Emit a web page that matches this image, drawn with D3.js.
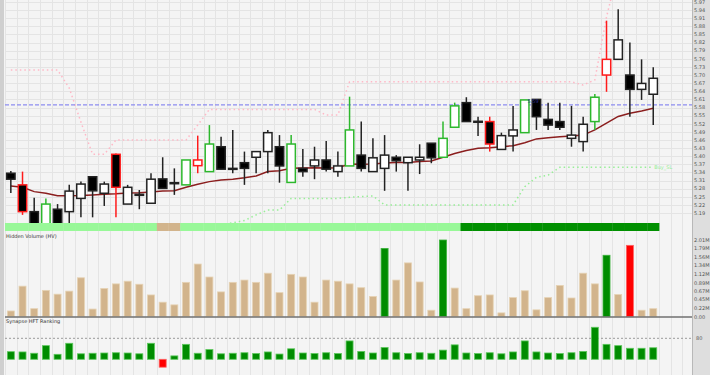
<!DOCTYPE html>
<html>
<head>
<meta charset="utf-8">
<script src="https://cdn.jsdelivr.net/npm/d3@7"></script>
<style>
  body { margin: 0; background: #ffffff; }
  svg { display: block; font-family: "DejaVu Sans", sans-serif; }
</style>
</head>
<body>
<div id="chart"></div>
<script>
// ---- data ----
const opens = [5.337,5.294,5.195,5.150,5.204,5.195,5.244,5.324,5.263,5.407,5.223,5.257,5.226,5.316,5.302,5.294,5.365,5.343,5.435,5.355,
  5.376,5.396,5.417,5.435,5.303,5.355,5.364,5.386,5.343,5.364,5.404,5.343,5.355,5.396,5.376,5.386,5.448,5.396,5.507,5.598,
  5.529,5.528,5.425,5.475,5.487,5.610,5.536,5.528,5.466,5.454,5.528,5.700,5.758,5.700,5.647,5.629]
const highs = [5.345,5.343,5.246,5.244,5.223,5.294,5.306,5.326,5.306,5.410,5.294,5.275,5.337,5.396,5.355,5.386,5.476,5.515,5.472,5.497,
  5.417,5.417,5.497,5.478,5.478,5.427,5.435,5.456,5.417,5.620,5.528,5.466,5.478,5.404,5.396,5.444,5.448,5.528,5.598,5.618,
  5.546,5.546,5.487,5.586,5.608,5.610,5.598,5.598,5.586,5.546,5.630,5.901,5.943,5.820,5.758,5.729]
const lows = [5.264,5.183,5.140,5.140,5.140,5.153,5.174,5.174,5.216,5.174,5.223,5.204,5.226,5.281,5.257,5.294,5.337,5.343,5.352,5.337,
  5.294,5.337,5.337,5.302,5.303,5.324,5.315,5.343,5.324,5.364,5.343,5.343,5.272,5.343,5.272,5.334,5.374,5.396,5.507,5.528,
  5.475,5.417,5.425,5.417,5.487,5.497,5.497,5.497,5.435,5.417,5.497,5.638,5.758,5.546,5.608,5.515]
const closes = [5.315,5.195,5.150,5.223,5.150,5.271,5.297,5.272,5.297,5.285,5.285,5.259,5.315,5.281,5.299,5.386,5.386,5.445,5.352,5.353,
  5.355,5.417,5.487,5.364,5.445,5.343,5.386,5.352,5.364,5.497,5.355,5.394,5.404,5.383,5.396,5.396,5.394,5.466,5.586,5.528,
  5.528,5.445,5.476,5.497,5.608,5.546,5.515,5.507,5.478,5.518,5.618,5.758,5.830,5.647,5.669,5.688]
// candle edge signal: k = plain, g = green edge, r = red edge
const candleEdge = ['k','r','k','g','k','k','k','k','k','r','k','k','k','k','k','g','r','g','k','k',
  'k','k','k','k','g','k','k','k','k','g','k','k','k','k','k','k','k','g','g','k',
  'k','r','k','k','g','k','k','k','k','k','g','r','k','k','k','k']
const movingAvg = [5.290,5.285,5.269,5.263,5.254,5.254,5.255,5.257,5.259,5.261,5.264,5.265,5.268,5.271,5.272,5.285,5.296,5.306,5.312,5.315,
  5.320,5.327,5.343,5.346,5.355,5.356,5.357,5.356,5.357,5.371,5.370,5.371,5.375,5.377,5.377,5.380,5.382,5.396,5.410,5.421,
  5.429,5.431,5.435,5.439,5.450,5.464,5.468,5.472,5.475,5.478,5.497,5.522,5.547,5.559,5.567,5.577]
const sellStop = [5.719,5.719,5.719,5.719,5.719,5.652,5.526,5.407,5.407,5.460,5.460,5.460,5.460,5.460,5.460,5.460,5.515,5.573,5.573,5.573,
  5.573,5.573,5.573,5.573,5.573,5.573,5.573,5.552,5.552,5.675,5.675,5.675,5.675,5.675,5.675,5.675,5.675,5.675,5.675,5.675,
  5.675,5.675,5.675,5.675,5.675,5.675,5.675,5.675,5.675,5.663,5.682,5.915,6.090,6.090,6.090,6.090]
const buyStop = [null,null,null,null,null,null,null,null,null,null,null,null,null,null,null,null,null,null,5.146,5.154,
  5.162,5.183,5.201,5.201,5.244,5.244,5.244,5.244,5.244,5.248,5.251,5.253,5.220,5.220,5.220,5.220,5.220,5.220,5.220,5.220,
  5.220,5.220,5.220,5.220,5.287,5.322,5.330,5.359,5.359,5.359,5.359,5.359,5.359,5.359,5.359,5.359]
const stripState = ['lt','lt','lt','lt','lt','lt','lt','lt','lt','lt','lt','lt','lt','tan','tan','lt','lt','lt','lt','lt',
  'lt','lt','lt','lt','lt','lt','lt','lt','lt','lt','lt','lt','lt','lt','lt','lt','lt','lt','lt','dk',
  'dk','dk','dk','dk','dk','dk','dk','dk','dk','dk','dk','dk','dk','dk','dk','dk']
const hiddenVolume = [0.15,0.80,0.21,0.69,0.59,0.67,1.02,0.20,0.74,0.86,0.93,0.85,0.57,0.38,0.31,0.90,1.38,1.04,0.65,0.90,
  0.96,0.90,1.14,0.63,1.11,1.04,0.38,0.96,0.93,0.86,0.76,0.53,1.79,0.96,1.41,0.91,0.17,2.01,0.75,0.21,
  0.55,0.57,0.10,0.50,0.68,0.18,0.50,0.82,0.49,1.14,0.86,1.61,0.58,1.87,0.17,0.21]
const volumeState = ['t','t','t','t','t','t','t','t','t','t','t','t','t','t','t','t','t','t','t','t',
  't','t','t','t','t','t','t','t','t','t','t','t','g','t','t','t','t','g','t','t',
  't','t','t','t','t','t','t','t','t','t','t','g','t','r','t','t']
const hftRanking = [29,28,23,52,19,61,21,23,24,25,24,21,61,-30,13,57,23,37,21,23,
  25,22,28,20,40,24,22,25,22,70,30,24,45,25,22,25,23,35,55,24,
  22,25,21,28,70,28,24,22,25,30,122,57,52,42,42,44]
const priceTicks = [5.19,5.22,5.25,5.28,5.31,5.34,5.37,5.40,5.43,5.46,5.49,5.52,5.55,5.58,5.61,5.64,5.67,5.70,5.73,5.76,5.79,5.82,5.85,5.88,5.91,5.94,5.97]
const volumeTicks = [0, 0.22, 0.45, 0.67, 0.89, 1.12, 1.34, 1.56, 1.79, 2.01]
const volumeTickLabels = ['0.00','0.22M','0.45M','0.67M','0.89M','1.12M','1.34M','1.56M','1.79M','2.01M']
const hftTicks = [80]
const refPrice = 5.59

// ---- layout ----
const width = 710, height = 375
const plot = { left: 5, right: 692 }
const pricePane = { top: 0, bottom: 223 }
const strip = { top: 223, bottom: 231 }
const volPane = { top: 231, bottom: 317 }
const hftPane = { top: 318, bottom: 375 }

const svg = d3.select('#chart').append('svg')
  .attr('width', width).attr('height', height)

const idx = d3.range(opens.length)
const x = d3.scaleBand().domain(idx).range([plot.left, plot.left + 11.68 * opens.length])
const xc = i => x(i) + x.bandwidth() / 2

const yPrice = d3.scaleLinear().domain([5.19, 5.97]).range([213, 2])
const yVol = d3.scaleLinear().domain([0, 2.01]).range([316.7, 240])
const yHft = d3.scaleLinear().domain([0, 80]).range([359.3, 338.3])

// backgrounds
svg.append('rect').attr('width', width).attr('height', height).attr('fill', '#f4f4f4')
svg.append('rect').attr('x', 0).attr('y', 0).attr('width', 4).attr('height', height).attr('fill', '#cfcfcf')
svg.append('rect').attr('x', plot.right).attr('y', 0).attr('width', width - plot.right).attr('height', height).attr('fill', '#dedede')
svg.append('line').attr('x1', plot.right + 0.5).attr('x2', plot.right + 0.5).attr('y1', 0).attr('y2', height)
  .attr('stroke', '#b8b8b8')

// vertical grid on slot boundaries, all panes
const gridX = d3.range(0, 59).map(k => plot.left + 11.68 * k).filter(v => v < plot.right)
const grid = svg.append('g').attr('stroke', '#e4e4e4').attr('stroke-width', 1)
grid.selectAll('line.v').data(gridX).join('line')
  .attr('x1', d => Math.round(d) + 0.5).attr('x2', d => Math.round(d) + 0.5)
  .attr('y1', 0).attr('y2', height)
grid.selectAll('line.h').data(priceTicks).join('line')
  .attr('x1', plot.left).attr('x2', plot.right)
  .attr('y1', d => Math.round(yPrice(d)) + 0.5).attr('y2', d => Math.round(yPrice(d)) + 0.5)

// ---- price pane ----
svg.append('clipPath').attr('id', 'priceClip').append('rect')
  .attr('x', plot.left).attr('y', pricePane.top)
  .attr('width', plot.right - plot.left).attr('height', pricePane.bottom - pricePane.top)
const price = svg.append('g').attr('clip-path', 'url(#priceClip)')

const stopLine = d3.line().defined(d => d != null).x((d, i) => xc(i)).y(d => yPrice(d))

price.append('path').datum(sellStop).attr('d', stopLine)
  .attr('fill', 'none').attr('stroke', '#ffb8c6').attr('stroke-width', 1.5).attr('stroke-dasharray', '1.5,3')
price.append('path').datum(buyStop).attr('d', stopLine)
  .attr('fill', 'none').attr('stroke', '#98ee98').attr('stroke-width', 1.5).attr('stroke-dasharray', '1.5,3')

price.append('line')
  .attr('x1', plot.left).attr('x2', plot.right)
  .attr('y1', yPrice(refPrice)).attr('y2', yPrice(refPrice))
  .attr('stroke', '#8c8cf0').attr('stroke-width', 1.3).attr('stroke-dasharray', '4,2')

price.append('path').datum(movingAvg)
  .attr('d', d3.line().x((d, i) => xc(i)).y(d => yPrice(d)))
  .attr('fill', 'none').attr('stroke', '#8b1e1e').attr('stroke-width', 1.5)

const edgeColor = { k: '#222222', g: '#2db82d', r: '#ff1a1a' }
const bodyW = 8.4
const candles = price.selectAll('g.candle').data(idx).join('g')
candles.append('line')
  .attr('x1', i => xc(i)).attr('x2', i => xc(i))
  .attr('y1', i => yPrice(highs[i])).attr('y2', i => yPrice(lows[i]))
  .attr('stroke', i => edgeColor[candleEdge[i]]).attr('stroke-width', 1.5)
candles.append('rect')
  .attr('x', i => xc(i) - bodyW / 2)
  .attr('width', bodyW)
  .attr('y', i => yPrice(Math.max(opens[i], closes[i])))
  .attr('height', i => Math.max(1, Math.abs(yPrice(opens[i]) - yPrice(closes[i]))))
  .attr('fill', i => closes[i] < opens[i] ? '#000000' : '#ffffff')
  .attr('stroke', i => edgeColor[candleEdge[i]]).attr('stroke-width', 1.5)

price.append('text').attr('x', xc(45) - 9).attr('y', yPrice(refPrice) - 1.5)
  .attr('font-size', 5).attr('fill', '#2b2b8c').text(refPrice.toFixed(2))
price.append('text').attr('x', xc(55) + 1).attr('y', yPrice(buyStop[55]) + 1.5)
  .attr('font-size', 5).attr('fill', '#98ee98').text('Buy_SL')

// signal strip
const stripFill = { lt: '#98f898', tan: '#d2b48c', dk: '#009000' }
svg.append('g').selectAll('rect').data(idx).join('rect')
  .attr('x', i => x(i)).attr('width', x.bandwidth() + 0.3)
  .attr('y', strip.top).attr('height', strip.bottom - strip.top)
  .attr('fill', i => stripFill[stripState[i]])

// price axis labels
svg.append('g').selectAll('text').data(priceTicks).join('text')
  .attr('x', plot.right + 2).attr('y', d => yPrice(d) + 1.8)
  .attr('font-size', 5).attr('fill', '#555').text(d => d.toFixed(2))

// ---- hidden volume pane ----
const volFill = { t: '#d2b48c', g: '#008c00', r: '#ff0000' }
const volStroke = { t: '#e6d3b4', g: '#3cb43c', r: '#ff6060' }
const barW = 7
svg.append('g').selectAll('rect').data(idx).join('rect')
  .attr('x', i => xc(i) - barW / 2).attr('width', barW)
  .attr('y', i => yVol(hiddenVolume[i]))
  .attr('height', i => yVol(0) - yVol(hiddenVolume[i]))
  .attr('fill', i => volFill[volumeState[i]])
  .attr('stroke', i => volStroke[volumeState[i]]).attr('stroke-width', 0.8)
svg.append('line').attr('x1', plot.left).attr('x2', plot.right)
  .attr('y1', 317).attr('y2', 317).attr('stroke', '#707070').attr('stroke-width', 1.5)
svg.append('text').attr('x', 6).attr('y', 237.5).attr('font-size', 5).attr('fill', '#333')
  .text('Hidden Volume (HV)')
svg.append('g').selectAll('text').data(volumeTicks).join('text')
  .attr('x', plot.right + 2).attr('y', d => yVol(d) + 1.8)
  .attr('font-size', 5).attr('fill', '#555').text((d, i) => volumeTickLabels[i])

// ---- synapse HFT ranking pane ----
svg.append('line').attr('x1', plot.left).attr('x2', plot.right)
  .attr('y1', yHft(80)).attr('y2', yHft(80))
  .attr('stroke', '#9a9a9a').attr('stroke-width', 1).attr('stroke-dasharray', '2,2')
svg.append('g').selectAll('rect').data(idx).join('rect')
  .attr('x', i => xc(i) - barW / 2).attr('width', barW)
  .attr('y', i => yHft(Math.max(0, hftRanking[i])))
  .attr('height', i => Math.abs(yHft(hftRanking[i]) - yHft(0)))
  .attr('fill', i => hftRanking[i] < 0 ? '#ff0000' : '#008c00')
  .attr('stroke', i => hftRanking[i] < 0 ? '#ff6060' : '#5cc85c').attr('stroke-width', 0.8)
svg.append('text').attr('x', 6).attr('y', 322.5).attr('font-size', 5).attr('fill', '#333')
  .text('Synapse HFT Ranking')
svg.append('g').selectAll('text').data(hftTicks).join('text')
  .attr('x', plot.right + 4).attr('y', d => yHft(d) + 1.8)
  .attr('font-size', 5).attr('fill', '#555').text(d => d)
</script>
</body>
</html>
